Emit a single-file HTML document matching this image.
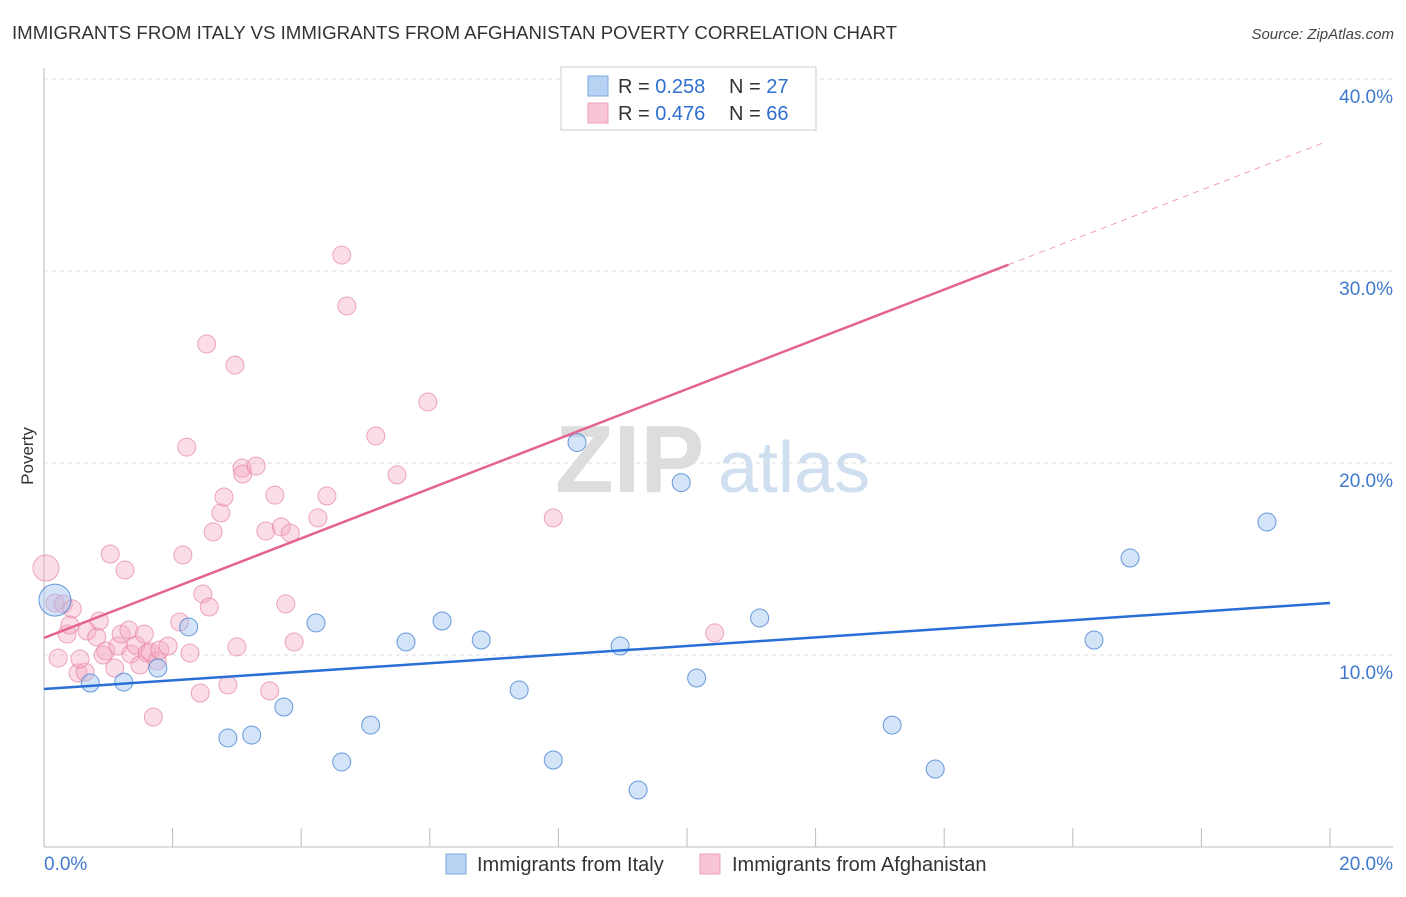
<!DOCTYPE html>
<html><head><meta charset="utf-8"><style>
body{margin:0;background:#fff;font-family:"Liberation Sans",sans-serif;}
svg text{font-family:"Liberation Sans",sans-serif;}
</style></head><body>
<svg id="chart" width="1406" height="892" xmlns="http://www.w3.org/2000/svg">
<text x="12" y="39" font-size="18" fill="#333" textLength="885" lengthAdjust="spacingAndGlyphs">IMMIGRANTS FROM ITALY VS IMMIGRANTS FROM AFGHANISTAN POVERTY CORRELATION CHART</text>
<text x="1394" y="39" font-size="15" fill="#444" text-anchor="end" font-style="italic">Source: ZipAtlas.com</text>
<g>
<text x="555" y="492" font-size="96" fill="#ddd" font-family="Liberation Serif" font-weight="bold">ZIP</text>
<text x="718" y="492" font-size="72" fill="#cfdff0">atlas</text>
</g>
<g id="grid"></g>
<g id="axes"></g>
<g id="marks"></g>
<text transform="translate(33,456) rotate(-90)" font-size="17" fill="#333" text-anchor="middle">Poverty</text>
<g>
<rect x="561" y="67" width="255" height="63" fill="#fff" stroke="#ccc"/>
<rect x="588" y="76" width="20" height="20" fill="#b8d2f3" stroke="#7ea9e0"/>
<rect x="588" y="103" width="20" height="20" fill="#f8c5d5" stroke="#eea0b8"/>
<text x="618" y="93" font-size="20" fill="#333">R = <tspan fill="#2f6fd0">0.258</tspan></text>
<text x="729" y="93" font-size="20" fill="#333">N = <tspan fill="#2f6fd0">27</tspan></text>
<text x="618" y="120" font-size="20" fill="#333">R = <tspan fill="#2f6fd0">0.476</tspan></text>
<text x="729" y="120" font-size="20" fill="#333">N = <tspan fill="#2f6fd0">66</tspan></text>
</g>
<g>
<rect x="446" y="854" width="20" height="20" fill="#b8d2f3" stroke="#7ea9e0"/>
<text x="477" y="871" font-size="20" fill="#333">Immigrants from Italy</text>
<rect x="700" y="854" width="20" height="20" fill="#f8c5d5" stroke="#eea0b8"/>
<text x="732" y="871" font-size="20" fill="#333">Immigrants from Afghanistan</text>
</g>
</svg>
<script>
const yTicks=[10,20,30,40];
const yTickLabels=["10.0%","20.0%","30.0%","40.0%"];
const italyX=[0.17,0.72,1.24,1.77,2.25,2.86,3.23,3.73,4.23,4.63,5.08,5.63,6.19,6.80,7.39,7.92,8.29,8.96,9.24,9.91,10.15,11.13,13.19,13.86,16.33,16.89,19.02];
const italyY=[12.86,8.54,8.59,9.32,11.46,5.68,5.83,7.29,11.67,4.43,6.35,10.68,11.77,10.78,8.18,4.53,21.07,10.47,2.97,18.98,8.8,11.93,6.35,4.06,10.78,15.05,16.93];
const afgX=[0.03,0.17,0.30,0.44,0.22,0.36,0.40,0.53,0.64,0.56,0.67,0.82,0.86,0.92,0.96,1.03,1.10,1.15,1.20,1.26,1.32,1.35,1.43,1.49,1.56,1.60,1.65,1.70,1.76,1.80,1.93,2.11,2.16,2.22,2.27,2.43,2.47,2.53,2.57,2.63,2.75,2.80,2.86,2.97,3.00,3.08,3.09,3.30,3.45,3.51,3.59,3.69,3.76,3.83,3.89,4.26,4.40,4.63,4.71,5.16,5.49,5.97,7.92,10.43];
const afgY=[14.53,12.71,12.66,12.40,9.84,11.09,11.56,9.06,9.11,9.79,11.25,10.94,11.77,10.0,10.21,15.26,9.32,10.47,11.09,14.43,11.30,10.05,10.52,9.48,11.09,10.10,10.16,6.77,9.69,10.26,10.47,11.72,15.21,20.83,10.10,8.02,13.18,26.20,12.50,16.41,17.40,18.23,8.44,25.10,10.42,19.74,19.43,19.84,16.46,8.13,18.33,16.67,12.66,16.35,10.68,17.14,18.28,30.83,28.18,21.41,19.38,23.18,17.14,11.15];
const italyTrend=[8.23,0.224];
const afgTrend=[10.89,1.296];
const NS="http://www.w3.org/2000/svg";
const X=v=>44+v/20*1286;
const Y=v=>847-v*19.2;
function mk(t,a,p){const e=document.createElementNS(NS,t);for(const k in a)e.setAttribute(k,a[k]);document.getElementById(p).appendChild(e);return e;}
yTicks.forEach((t,i)=>{
 const g=mk('line',{x1:44,x2:1393,y1:Y(t),y2:Y(t),stroke:'#ddd','stroke-dasharray':'4,4'},'grid');
 
 
 const tx=mk('text',{x:1393,y:Y(t)+24,'font-size':19,fill:'#3f78cc','text-anchor':'end'},'axes');
 tx.textContent=yTickLabels[i];
 
 
});
let a=mk('line',{x1:44,x2:44,y1:68,y2:847,stroke:'#bbb'},'axes');


a=mk('line',{x1:44,x2:1393,y1:847,y2:847,stroke:'#bbb'},'axes');


for(let i=0;i<=10;i++){const t=mk('line',{x1:X(i*2),x2:X(i*2),y1:828,y2:847,stroke:'#bbb'},'axes');
 
 }
let l=mk('text',{x:44,y:870,'font-size':19,fill:'#3f78cc'},'axes');l.textContent='0.0%';


l=mk('text',{x:1393,y:870,'font-size':19,fill:'#3f78cc','text-anchor':'end'},'axes');l.textContent='20.0%';


afgX.forEach((x,i)=>{const c=mk('circle',{cx:X(x),cy:Y(afgY[i]),r:i==0?13:9,fill:'rgba(245,170,195,0.4)',stroke:'rgba(230,130,165,0.7)','stroke-width':1},'marks');
 
 });
italyX.forEach((x,i)=>{const c=mk('circle',{cx:X(x),cy:Y(italyY[i]),r:i==0?16:9,fill:'rgba(160,195,240,0.45)',stroke:'rgba(70,130,210,0.8)','stroke-width':1},'marks');
 
 });
let t=mk('line',{x1:X(0),x2:X(20),y1:Y(italyTrend[0]),y2:Y(italyTrend[0]+italyTrend[1]*20),stroke:'#2a6fd6','stroke-width':2.5},'marks');


t=mk('line',{x1:X(0),x2:X(15),y1:Y(afgTrend[0]),y2:Y(afgTrend[0]+afgTrend[1]*15),stroke:'#e5648f','stroke-width':2.5},'marks');


t=mk('line',{x1:X(15),x2:X(19.9),y1:Y(afgTrend[0]+afgTrend[1]*15),y2:Y(afgTrend[0]+afgTrend[1]*19.9),stroke:'#eea0b8','stroke-width':1,'stroke-dasharray':'6,5'},'marks');


</script>
</body></html>
